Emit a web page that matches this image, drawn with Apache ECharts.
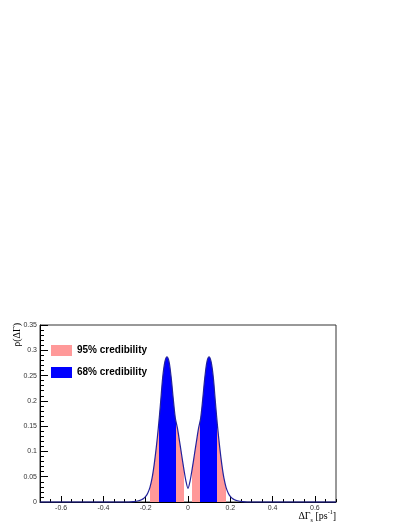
<!DOCTYPE html>
<html>
<head>
<meta charset="utf-8">
<script src="https://cdn.jsdelivr.net/npm/echarts@6/dist/echarts.min.js"></script>
<style>
  html, body { margin: 0; padding: 0; background: #fff; }
  #chart { width: 407px; height: 527px; }
</style>
</head>
<body>
<div id="chart"></div>
<script>
// delta Gamma_s values (ps^-1) and posterior density
var xs = [-0.7, -0.6, -0.5, -0.4, -0.3,
  -0.29, -0.28, -0.27, -0.26, -0.25, -0.24, -0.23, -0.22, -0.21, -0.2,
  -0.19, -0.18, -0.17, -0.16, -0.15, -0.14, -0.13, -0.12, -0.11, -0.1,
  -0.09, -0.08, -0.07, -0.06, -0.05, -0.04, -0.03, -0.02, -0.01, 0,
  0.01, 0.02, 0.03, 0.04, 0.05, 0.06, 0.07, 0.08, 0.09, 0.1,
  0.11, 0.12, 0.13, 0.14, 0.15, 0.16, 0.17, 0.18, 0.19, 0.2,
  0.21, 0.22, 0.23, 0.24, 0.25, 0.26, 0.27, 0.28, 0.29,
  0.3, 0.4, 0.5, 0.6, 0.7];
var density = [0, 0, 0, 0, 0,
  0, 0, 0.0002, 0.0006, 0.0012, 0.002, 0.003, 0.0045, 0.007, 0.011,
  0.018, 0.029, 0.047, 0.074, 0.108, 0.148, 0.195, 0.245, 0.276, 0.287,
  0.278, 0.248, 0.205, 0.166, 0.146, 0.120, 0.093, 0.066, 0.042, 0.027,
  0.042, 0.066, 0.093, 0.120, 0.146, 0.166, 0.205, 0.248, 0.278, 0.287,
  0.276, 0.245, 0.195, 0.148, 0.108, 0.074, 0.047, 0.029, 0.018, 0.011,
  0.007, 0.0045, 0.003, 0.002, 0.0012, 0.0006, 0.0002, 0, 0,
  0, 0, 0, 0, 0];
// credibility intervals
var cred95 = [[-0.178, -0.019], [0.019, 0.178]];
var cred68 = [[-0.139, -0.057], [0.057, 0.139]];
var xLabels = [-0.6, -0.4, -0.2, 0, 0.2, 0.4, 0.6];

var pink = '#ff9999';
var blue = '#0000ff';
var lineColor = '#22229c';

var points = xs.map(function (x, i) { return [x, density[i]]; });

// pieces for the fill, sorted left to right
var pieces = [
  { gte: cred95[0][0], lt: cred68[0][0], color: pink },
  { gte: cred68[0][0], lte: cred68[0][1], color: blue },
  { gt: cred68[0][1], lte: cred95[0][1], color: pink },
  { gte: cred95[1][0], lt: cred68[1][0], color: pink },
  { gte: cred68[1][0], lte: cred68[1][1], color: blue },
  { gt: cred68[1][1], lte: cred95[1][1], color: pink }
];

var chart = echarts.init(document.getElementById('chart'));
var labelStyle = { fontFamily: 'Liberation Sans', fontSize: 7, color: '#333' };

var option = {
  backgroundColor: '#fff',
  animation: false,
  grid: { left: 40, right: 71, top: 325, bottom: 25, show: true, borderColor: '#333', borderWidth: 1, backgroundColor: '#fff' },
  legend: {
    orient: 'vertical', left: 51, top: 344, padding: 0, itemGap: 9,
    itemWidth: 21, itemHeight: 11, icon: 'rect',
    data: ['95% credibility', '68% credibility'],
    textStyle: { fontFamily: 'Liberation Sans', fontWeight: 'bold', fontSize: 10, color: '#000', lineHeight: 13 }
  },
  visualMap: {
    type: 'piecewise', show: false, dimension: 0, seriesIndex: 0,
    pieces: pieces, outOfRange: { color: 'rgba(0,0,0,0)' }
  },
  xAxis: [{
    type: 'value', min: -0.7, max: 0.7, interval: 0.05,
    axisLine: { onZero: false, lineStyle: { color: '#000', width: 1 } },
    axisTick: { inside: true, length: 6, customValues: xLabels, lineStyle: { color: '#000' } },
    axisLabel: Object.assign({ margin: 3, customValues: xLabels }, labelStyle),
    splitLine: { show: false }
  }, {
    type: 'value', min: -0.7, max: 0.7, interval: 0.05, position: 'bottom',
    axisLine: { show: false, onZero: false },
    axisTick: { inside: true, length: 3, lineStyle: { color: '#000' } },
    axisLabel: { show: false },
    splitLine: { show: false }
  }],
  yAxis: {
    type: 'value', min: 0, max: 0.35, interval: 0.05,
    axisLine: { show: true, onZero: false, lineStyle: { color: '#000', width: 1 } },
    axisTick: { show: true, inside: true, length: 8, lineStyle: { color: '#000' } },
    minorTick: { show: true, splitNumber: 5, length: 4, lineStyle: { color: '#000' } },
    axisLabel: Object.assign({ margin: 3 }, labelStyle),
    splitLine: { show: false }
  },
  graphic: [{
    type: 'text', x: 12, y: 323, rotation: Math.PI / 2,
    style: { text: 'ρ(ΔΓ)', fontFamily: 'Liberation Serif', fontSize: 10, fill: '#000', textAlign: 'right', textVerticalAlign: 'top' }
  }, {
    type: 'text', right: 71, top: 509,
    style: {
      text: '{a|ΔΓ}{sub|s}{a| [ps}{sup|-1}{a|]}',
      rich: {
        a: { fontFamily: 'Liberation Serif', fontSize: 10, lineHeight: 14, fill: '#000' },
        sub: { fontFamily: 'Liberation Serif', fontSize: 6, lineHeight: 8, verticalAlign: 'bottom', fill: '#000' },
        sup: { fontFamily: 'Liberation Serif', fontSize: 6, lineHeight: 8, verticalAlign: 'top', fill: '#000' }
      }
    }
  }],
  series: [{
    name: 'fill', type: 'line', data: points, smooth: 0.3, showSymbol: false,
    lineStyle: { width: 0 }, areaStyle: { opacity: 1 }, z: 2
  }, {
    name: 'curve', type: 'line', data: points, smooth: 0.3, showSymbol: false, clip: false,
    itemStyle: { color: lineColor }, lineStyle: { color: lineColor, width: 1.2 }, z: 5
  }, {
    name: '95% credibility', type: 'line', data: [], itemStyle: { color: pink }
  }, {
    name: '68% credibility', type: 'line', data: [], itemStyle: { color: blue }
  }]
};
chart.setOption(option);
</script>
</body>
</html>
